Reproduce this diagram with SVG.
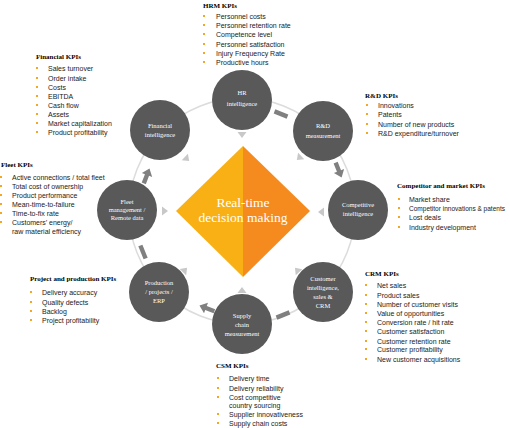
<svg xmlns="http://www.w3.org/2000/svg" width="510" height="428" viewBox="0 0 510 428">
<style>
.node{fill:#595959}
.nl{font-family:"Liberation Serif",serif;font-size:6.5px;fill:#fff;text-anchor:middle}
.h{font-family:"Liberation Serif",serif;font-size:7px;font-weight:bold;fill:#000}
.it{font-family:"Liberation Sans",Arial,sans-serif;font-size:7px;fill:#222}
.b{fill:#F5A623}
.tri{fill:#c8c8c8}
.arr{fill:#808080}
.arc{fill:none;stroke:#dcdcdc;stroke-width:1.5}
.big{font-family:"Liberation Serif",serif;font-size:13.5px;fill:#fff;text-anchor:middle}
</style>
<defs>
<path id="t" d="M-3,-4.5 L3,0 L-3,4.5 Z"/>
<path id="a" d="M-9,-2.2 L0,-2.2 L0,-5.5 L7,0 L0,5.5 L0,2.2 L-9,2.2 Z"/>
<rect id="bar" x="-7" y="-2.2" width="14" height="4.4"/>
<rect id="bl" x="0" y="-1" width="2" height="2"/>
</defs>
<rect width="510" height="428" fill="#fff"/>
<g id="connectors">
<circle class="arc" cx="242" cy="211" r="113"/>
<use href="#bar" class="arr" transform="translate(281,114) rotate(22)"/>
<use href="#a" class="arr" transform="translate(339,171) rotate(68)"/>
<use href="#a" class="arr" transform="translate(147,175) rotate(-69)"/>
<use href="#a" class="arr" transform="translate(206,308) rotate(-159)"/>
<use href="#bar" class="arr" transform="translate(143,252) rotate(-112)"/>
<use href="#bar" class="arr" transform="translate(283,315) rotate(158)"/>
<use href="#t" class="tri" transform="translate(242,135) rotate(90)"/>
<use href="#t" class="tri" transform="translate(187,159) rotate(43)"/>
<use href="#t" class="tri" transform="translate(299,158) rotate(137)"/>
<use href="#t" class="tri" transform="translate(165,211)"/>
<use href="#t" class="tri" transform="translate(321,212) rotate(180)"/>
<use href="#t" class="tri" transform="translate(185,270) rotate(-46)"/>
<use href="#t" class="tri" transform="translate(297,270) rotate(-133)"/>
<use href="#t" class="tri" transform="translate(242,290) rotate(-90)"/>
</g>
<g id="center">
<polygon points="243,146 243,277 176,211" fill="#F8B014"/>
<polygon points="243,146 310,211 243,277" fill="#F58A1F"/>
<text class="big" x="243" y="207">Real-time</text>
<text class="big" x="243" y="222">decision making</text>
</g>
<g id="hr"><circle class="node" cx="242" cy="100" r="30"/><text class="nl" x="242" y="95">HR</text><text class="nl" x="242" y="106">intelligence</text></g>
<g id="financial"><circle class="node" cx="160" cy="130" r="30"/><text class="nl" x="160" y="128">Financial</text><text class="nl" x="160" y="137">intelligence</text></g>
<g id="rd"><circle class="node" cx="323" cy="131" r="30"/><text class="nl" x="323" y="128">R&amp;D</text><text class="nl" x="323" y="138">measurement</text></g>
<g id="competitive"><circle class="node" cx="358" cy="210" r="30"/><text class="nl" x="358" y="207">Competitive</text><text class="nl" x="358" y="216">intelligence</text></g>
<g id="customer"><circle class="node" cx="323" cy="292" r="30"/><text class="nl" x="323" y="281">Customer</text><text class="nl" x="323" y="290">intelligence,</text><text class="nl" x="323" y="299">sales &amp;</text><text class="nl" x="323" y="308">CRM</text></g>
<g id="supply"><circle class="node" cx="242" cy="324" r="30"/><text class="nl" x="242" y="318">Supply</text><text class="nl" x="242" y="327">chain</text><text class="nl" x="242" y="336">measurement</text></g>
<g id="production"><circle class="node" cx="159" cy="292" r="30"/><text class="nl" x="159" y="285">Production</text><text class="nl" x="159" y="294">/ projects /</text><text class="nl" x="159" y="303">ERP</text></g>
<g id="fleet"><circle class="node" cx="127" cy="210" r="30"/><text class="nl" x="127" y="204">Fleet</text><text class="nl" x="127" y="212">management /</text><text class="nl" x="127" y="220">Remote data</text></g>
<g id="hrm-kpis">
<text class="h" x="203" y="8">HRM KPIs</text>
<use href="#bl" class="b" x="203" y="16"/><text class="it" x="216" y="19">Personnel costs</text>
<use href="#bl" class="b" x="203" y="25"/><text class="it" x="216" y="28">Personnel retention rate</text>
<use href="#bl" class="b" x="203" y="34"/><text class="it" x="216" y="37">Competence level</text>
<use href="#bl" class="b" x="203" y="44"/><text class="it" x="216" y="47">Personnel satisfaction</text>
<use href="#bl" class="b" x="203" y="53"/><text class="it" x="216" y="56">Injury Frequency Rate</text>
<use href="#bl" class="b" x="203" y="62"/><text class="it" x="216" y="65">Productive hours</text>
</g>
<g id="financial-kpis">
<text class="h" x="36" y="59">Financial KPIs</text>
<use href="#bl" class="b" x="36" y="68"/><text class="it" x="48" y="71">Sales turnover</text>
<use href="#bl" class="b" x="36" y="78"/><text class="it" x="48" y="81">Order intake</text>
<use href="#bl" class="b" x="36" y="87"/><text class="it" x="48" y="90">Costs</text>
<use href="#bl" class="b" x="36" y="96"/><text class="it" x="48" y="99">EBITDA</text>
<use href="#bl" class="b" x="36" y="105"/><text class="it" x="48" y="108">Cash flow</text>
<use href="#bl" class="b" x="36" y="114"/><text class="it" x="48" y="117">Assets</text>
<use href="#bl" class="b" x="36" y="123"/><text class="it" x="48" y="126">Market capitalization</text>
<use href="#bl" class="b" x="36" y="132"/><text class="it" x="48" y="135">Product profitability</text>
</g>
<g id="rd-kpis">
<text class="h" x="365" y="98">R&amp;D KPIs</text>
<use href="#bl" class="b" x="366" y="105"/><text class="it" x="378" y="108">Innovations</text>
<use href="#bl" class="b" x="366" y="114"/><text class="it" x="378" y="117">Patents</text>
<use href="#bl" class="b" x="366" y="124"/><text class="it" x="378" y="127">Number of new products</text>
<use href="#bl" class="b" x="366" y="133"/><text class="it" x="378" y="136">R&amp;D expenditure/turnover</text>
</g>
<g id="fleet-kpis">
<text class="h" x="1" y="167">Fleet KPIs</text>
<use href="#bl" class="b" x="0" y="177"/><text class="it" x="12" y="180">Active connections / total fleet</text>
<use href="#bl" class="b" x="0" y="186"/><text class="it" x="12" y="189">Total cost of ownership</text>
<use href="#bl" class="b" x="0" y="195"/><text class="it" x="12" y="198">Product performance</text>
<use href="#bl" class="b" x="0" y="204"/><text class="it" x="12" y="207">Mean-time-to-failure</text>
<use href="#bl" class="b" x="0" y="213"/><text class="it" x="12" y="216">Time-to-fix rate</text>
<use href="#bl" class="b" x="0" y="222"/><text class="it" x="12" y="225">Customers’ energy/</text>
<text class="it" x="12" y="234">raw material efficiency</text>
</g>
<g id="competitor-kpis">
<text class="h" x="397" y="188">Competitor and market KPIs</text>
<use href="#bl" class="b" x="398" y="199"/><text class="it" x="409" y="202">Market share</text>
<use href="#bl" class="b" x="398" y="208"/><text class="it" x="409" y="211" style="font-size:6.5px" textLength="96" lengthAdjust="spacingAndGlyphs">Competitor innovations &amp; patents</text>
<use href="#bl" class="b" x="398" y="217"/><text class="it" x="409" y="220">Lost deals</text>
<use href="#bl" class="b" x="398" y="227"/><text class="it" x="409" y="230">Industry development</text>
</g>
<g id="project-kpis">
<text class="h" x="30" y="281">Project and production KPIs</text>
<use href="#bl" class="b" x="30" y="292"/><text class="it" x="42" y="295">Delivery accuracy</text>
<use href="#bl" class="b" x="30" y="302"/><text class="it" x="42" y="305">Quality defects</text>
<use href="#bl" class="b" x="30" y="311"/><text class="it" x="42" y="314">Backlog</text>
<use href="#bl" class="b" x="30" y="320"/><text class="it" x="42" y="323">Project profitability</text>
</g>
<g id="crm-kpis">
<text class="h" x="365" y="276">CRM KPIs</text>
<use href="#bl" class="b" x="365" y="285"/><text class="it" x="377" y="288">Net sales</text>
<use href="#bl" class="b" x="365" y="295"/><text class="it" x="377" y="298">Product sales</text>
<use href="#bl" class="b" x="365" y="304"/><text class="it" x="377" y="307">Number of customer visits</text>
<use href="#bl" class="b" x="365" y="313"/><text class="it" x="377" y="316">Value of opportunities</text>
<use href="#bl" class="b" x="365" y="322"/><text class="it" x="377" y="325">Conversion rate / hit rate</text>
<use href="#bl" class="b" x="365" y="331"/><text class="it" x="377" y="334">Customer satisfaction</text>
<use href="#bl" class="b" x="365" y="341"/><text class="it" x="377" y="344">Customer retention rate</text>
<use href="#bl" class="b" x="365" y="349"/><text class="it" x="377" y="352">Customer profitability</text>
<use href="#bl" class="b" x="365" y="359"/><text class="it" x="377" y="362">New customer acquisitions</text>
</g>
<g id="csm-kpis">
<text class="h" x="216" y="368">CSM KPIs</text>
<use href="#bl" class="b" x="217" y="378"/><text class="it" x="229" y="381">Delivery time</text>
<use href="#bl" class="b" x="217" y="388"/><text class="it" x="229" y="391">Delivery reliability</text>
<use href="#bl" class="b" x="217" y="397"/><text class="it" x="229" y="400">Cost competitive</text>
<text class="it" x="229" y="408">country sourcing</text>
<use href="#bl" class="b" x="217" y="414"/><text class="it" x="229" y="417">Supplier innovativeness</text>
<use href="#bl" class="b" x="217" y="423"/><text class="it" x="229" y="426">Supply chain costs</text>
</g>
</svg>
